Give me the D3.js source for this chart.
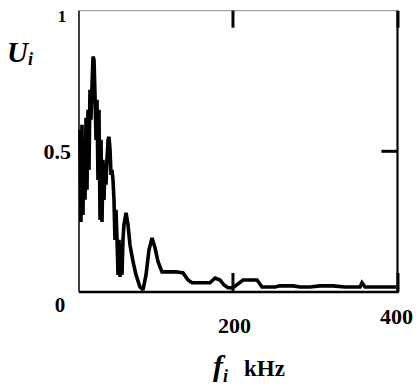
<!DOCTYPE html>
<html><head><meta charset="utf-8">
<script src="https://cdn.jsdelivr.net/npm/d3@7"></script>
<style>body{margin:0;background:#fff}svg{display:block}</style>
</head><body>
<script>
const freq = [15.2,16.4,17.6,18.8,20.1,21.3,22.5,23.7,24.9,26.1,27.3,28.5,29.8,31.0,32.2,33.4,34.6,35.8,37.0,38.2,39.5,40.7,41.9,43.1,44.3,45.5,46.7,47.9,49.2,50.4,51.6,52.8,54.0,55.2,56.4,57.6,58.8,60.1,61.3,62.5,63.7,64.9,66.1,67.3,68.5,71.0,73.4,75.8,79.5,83.1,87.9,91.6,95.2,98.8,102.5,106.1,109.8,114.6,121.9,131.6,140.1,146.1,151.0,160.7,172.8,178.8,184.9,189.8,194.6,200.7,206.7,212.8,221.3,229.8,235.8,251.6,257.6,273.4,281.9,294.0,306.1,321.9,336.4,354.6,357.0,360.7,391.0,398.3];
const amp = [0.575,0.246,0.593,0.271,0.539,0.325,0.618,0.361,0.646,0.432,0.718,0.611,0.736,0.836,0.825,0.700,0.539,0.682,0.396,0.646,0.254,0.539,0.246,0.468,0.325,0.450,0.379,0.468,0.539,0.550,0.504,0.414,0.432,0.396,0.325,0.182,0.289,0.182,0.057,0.182,0.050,0.164,0.057,0.182,0.236,0.279,0.236,0.164,0.104,0.057,0.014,0.004,0.057,0.146,0.189,0.154,0.104,0.068,0.068,0.068,0.064,0.039,0.029,0.029,0.029,0.046,0.039,0.021,0.011,0.011,0.025,0.039,0.039,0.039,0.014,0.014,0.018,0.018,0.014,0.014,0.018,0.018,0.014,0.014,0.029,0.014,0.014,0.014];
const xTicks = [200, 400];
const yTicks = [0, 0.5, 1];
const yTickLabels = ["0", "0.5", "1"];
const xTickLabels = ["200", "400"];

const W = 416, H = 388;
const L = 79, R = 397.5, T = 10.7, B = 292;
const x = d3.scaleLinear().domain([14, 400]).range([L, R]);
const y = d3.scaleLinear().domain([0, 1]).range([290.9, T]);

const svg = d3.select("body").append("svg").attr("width", W).attr("height", H);
const serif = "'Liberation Serif','Times New Roman',serif";

// frame
svg.append("line").attr("x1", L).attr("x2", R).attr("y1", T).attr("y2", T).attr("stroke", "#888").attr("stroke-width", 1);
svg.append("line").attr("x1", L).attr("x2", L).attr("y1", T).attr("y2", B).attr("stroke", "#000").attr("stroke-width", 1.5);
svg.append("line").attr("x1", R).attr("x2", R).attr("y1", T).attr("y2", B+1).attr("stroke", "#000").attr("stroke-width", 2.2);
svg.append("line").attr("x1", L).attr("x2", R+1).attr("y1", B).attr("y2", B).attr("stroke", "#000").attr("stroke-width", 2.5);

// ticks (inside) via axes
const tk = (g) => { g.select(".domain").remove(); g.selectAll("line").attr("stroke", "#000").attr("stroke-width", 3); };
svg.append("g").attr("transform", `translate(0,${T})`)
  .call(d3.axisTop(x).tickValues(xTicks).tickSize(-17).tickFormat("")).call(tk);
svg.append("g").attr("transform", `translate(0,${B})`)
  .call(d3.axisBottom(x).tickValues(xTicks).tickSize(-19).tickFormat("")).call(tk);
svg.append("g").attr("transform", `translate(${L},0)`)
  .call(d3.axisLeft(y).tickValues([0.5]).tickSize(-12).tickFormat("")).call(tk);
svg.append("g").attr("transform", `translate(${R},0)`)
  .call(d3.axisRight(y).tickValues([0.5]).tickSize(-16).tickFormat("")).call(tk);

// data line
const line = d3.line().x((d, i) => x(freq[i])).y((d, i) => y(amp[i]));
svg.append("path").datum(amp).attr("d", line).attr("fill", "none")
  .attr("stroke", "#000").attr("stroke-width", 3.6).attr("stroke-linejoin", "miter").attr("stroke-miterlimit", 2);

// y tick labels
const ylab = svg.append("g").attr("font-family", serif).attr("font-weight", "bold").attr("fill", "#000");
ylab.append("text").attr("x", 62).attr("y", y(1) + 11).attr("text-anchor", "middle").attr("font-size", 17).text(yTickLabels[2]);
ylab.append("text").attr("x", 71).attr("y", y(0.5) + 8).attr("text-anchor", "end").attr("font-size", 22).text(yTickLabels[1]);
ylab.append("text").attr("x", 60).attr("y", y(0) + 21).attr("text-anchor", "middle").attr("font-size", 21).text(yTickLabels[0]);

// x tick labels
const xlab = svg.append("g").attr("font-family", serif).attr("font-weight", "bold").attr("font-size", 22).attr("fill", "#000").attr("text-anchor", "middle");
xlab.append("text").attr("x", x(xTicks[0]) + 2).attr("y", 333).text(xTickLabels[0]);
xlab.append("text").attr("x", x(xTicks[1]) - 1).attr("y", 324).text(xTickLabels[1]);

// axis titles
const yt = svg.append("text").attr("font-family", serif).attr("font-weight", "bold").attr("font-style", "italic").attr("x", 7).attr("y", 62).attr("font-size", 29);
yt.append("tspan").text("U");
yt.append("tspan").attr("font-size", 18).attr("dy", 3).text("i");

const xt = svg.append("text").attr("font-family", serif).attr("font-weight", "bold").attr("x", 213).attr("y", 376).attr("font-size", 30);
xt.append("tspan").attr("font-style", "italic").text("f");
xt.append("tspan").attr("font-style", "italic").attr("font-size", 18).attr("dy", 6).text("i");
xt.append("tspan").attr("font-size", 23).attr("dy", -6).attr("dx", 16).text("kHz");
</script>
</body></html>
